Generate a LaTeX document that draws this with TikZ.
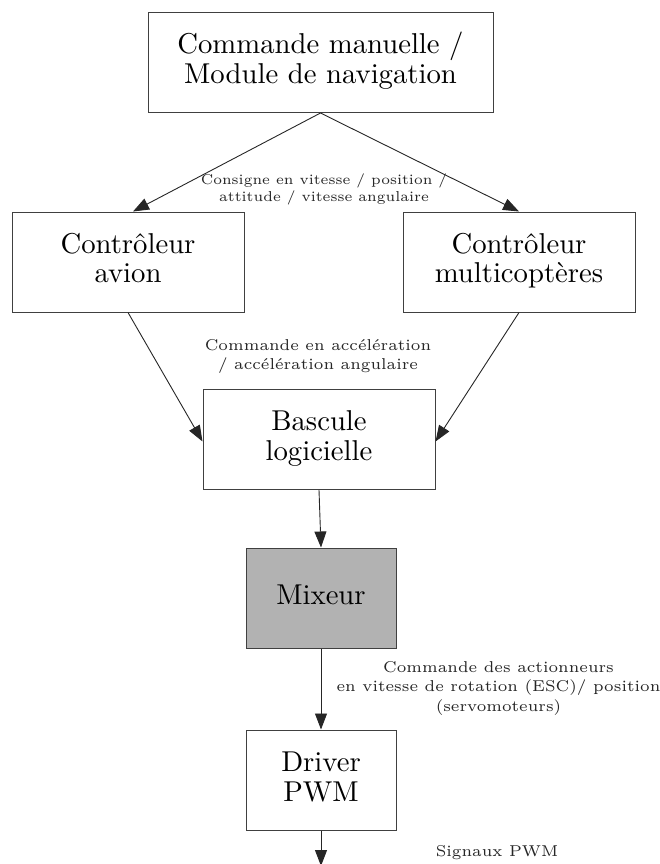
\documentclass[tikz,border=0pt]{standalone}
\usepackage{graphicx}
\usetikzlibrary{arrows.meta}
\newcommand{\bigtxt}[1]{\scalebox{2.87}{\fontsize{10}{10.45}\selectfont\begin{tabular}{@{}c@{}}#1\end{tabular}}}
\newcommand{\smalltxt}[3]{\scalebox{#1}{\fontsize{6}{#2}\selectfont\begin{tabular}{@{}c@{}}#3\end{tabular}}}
\begin{document}
\begin{tikzpicture}[x=1pt,y=-1pt,
  box/.style={draw=black!75,line width=1pt,minimum width=#1,minimum height=100pt,align=center,inner sep=0pt},
  box/.default=232pt,
  lbl/.style={align=center,inner sep=0pt,text=black!85},
  conn/.style={draw=black!85,line width=0.9pt,-{Triangle[length=16pt,width=12pt]}}]
\useasboundingbox (0,0) rectangle (660,864);
\node[box=345pt] (top) at (320.5,62.5) {\bigtxt{Commande manuelle /\\Module de navigation}};
\node[box] (avion) at (128,262) {\bigtxt{Contrôleur\\avion}};
\node[box] (multi) at (519,262) {\bigtxt{Contrôleur\\multicoptères}};
\node[box] (bascule) at (319,439.5) {\bigtxt{Bascule\\logicielle}};
\node[box=150pt,fill=black!30] (mix) at (321,598) {\bigtxt{Mixeur}};
\node[box=150pt] (driver) at (321,780) {\bigtxt{Driver\\PWM}};
\coordinate (out) at (321,866);
\node[lbl] (l1) at (324,190) {\smalltxt{2.39}{7.1}{Consigne en vitesse / position /\\attitude / vitesse angulaire}};
\node[lbl] (l2) at (318,356) {\smalltxt{2.62}{7.6}{Commande en accélération\\/ accélération angulaire}};
\node[lbl] (l3) at (498.5,688) {\smalltxt{2.62}{7.6}{Commande des actionneurs\\en vitesse de rotation (ESC)/ position\\(servomoteurs)}};
\node[lbl] (l4) at (497,853) {\smalltxt{2.62}{7.6}{Signaux PWM}};
\draw[conn] (top.south) -- ([xshift=5pt]avion.north);
\draw[conn] (top.south) -- (multi.north);
\draw[conn] (avion.south) -- ([yshift=-2pt]bascule.west);
\draw[conn] (multi.south) -- ([yshift=-2pt]bascule.east);
\draw[conn] (bascule.south) -- (mix.north);
\draw[conn] (mix.south) -- (driver.north);
\draw[conn] (driver.south) -- (out);
\end{tikzpicture}
\end{document}
